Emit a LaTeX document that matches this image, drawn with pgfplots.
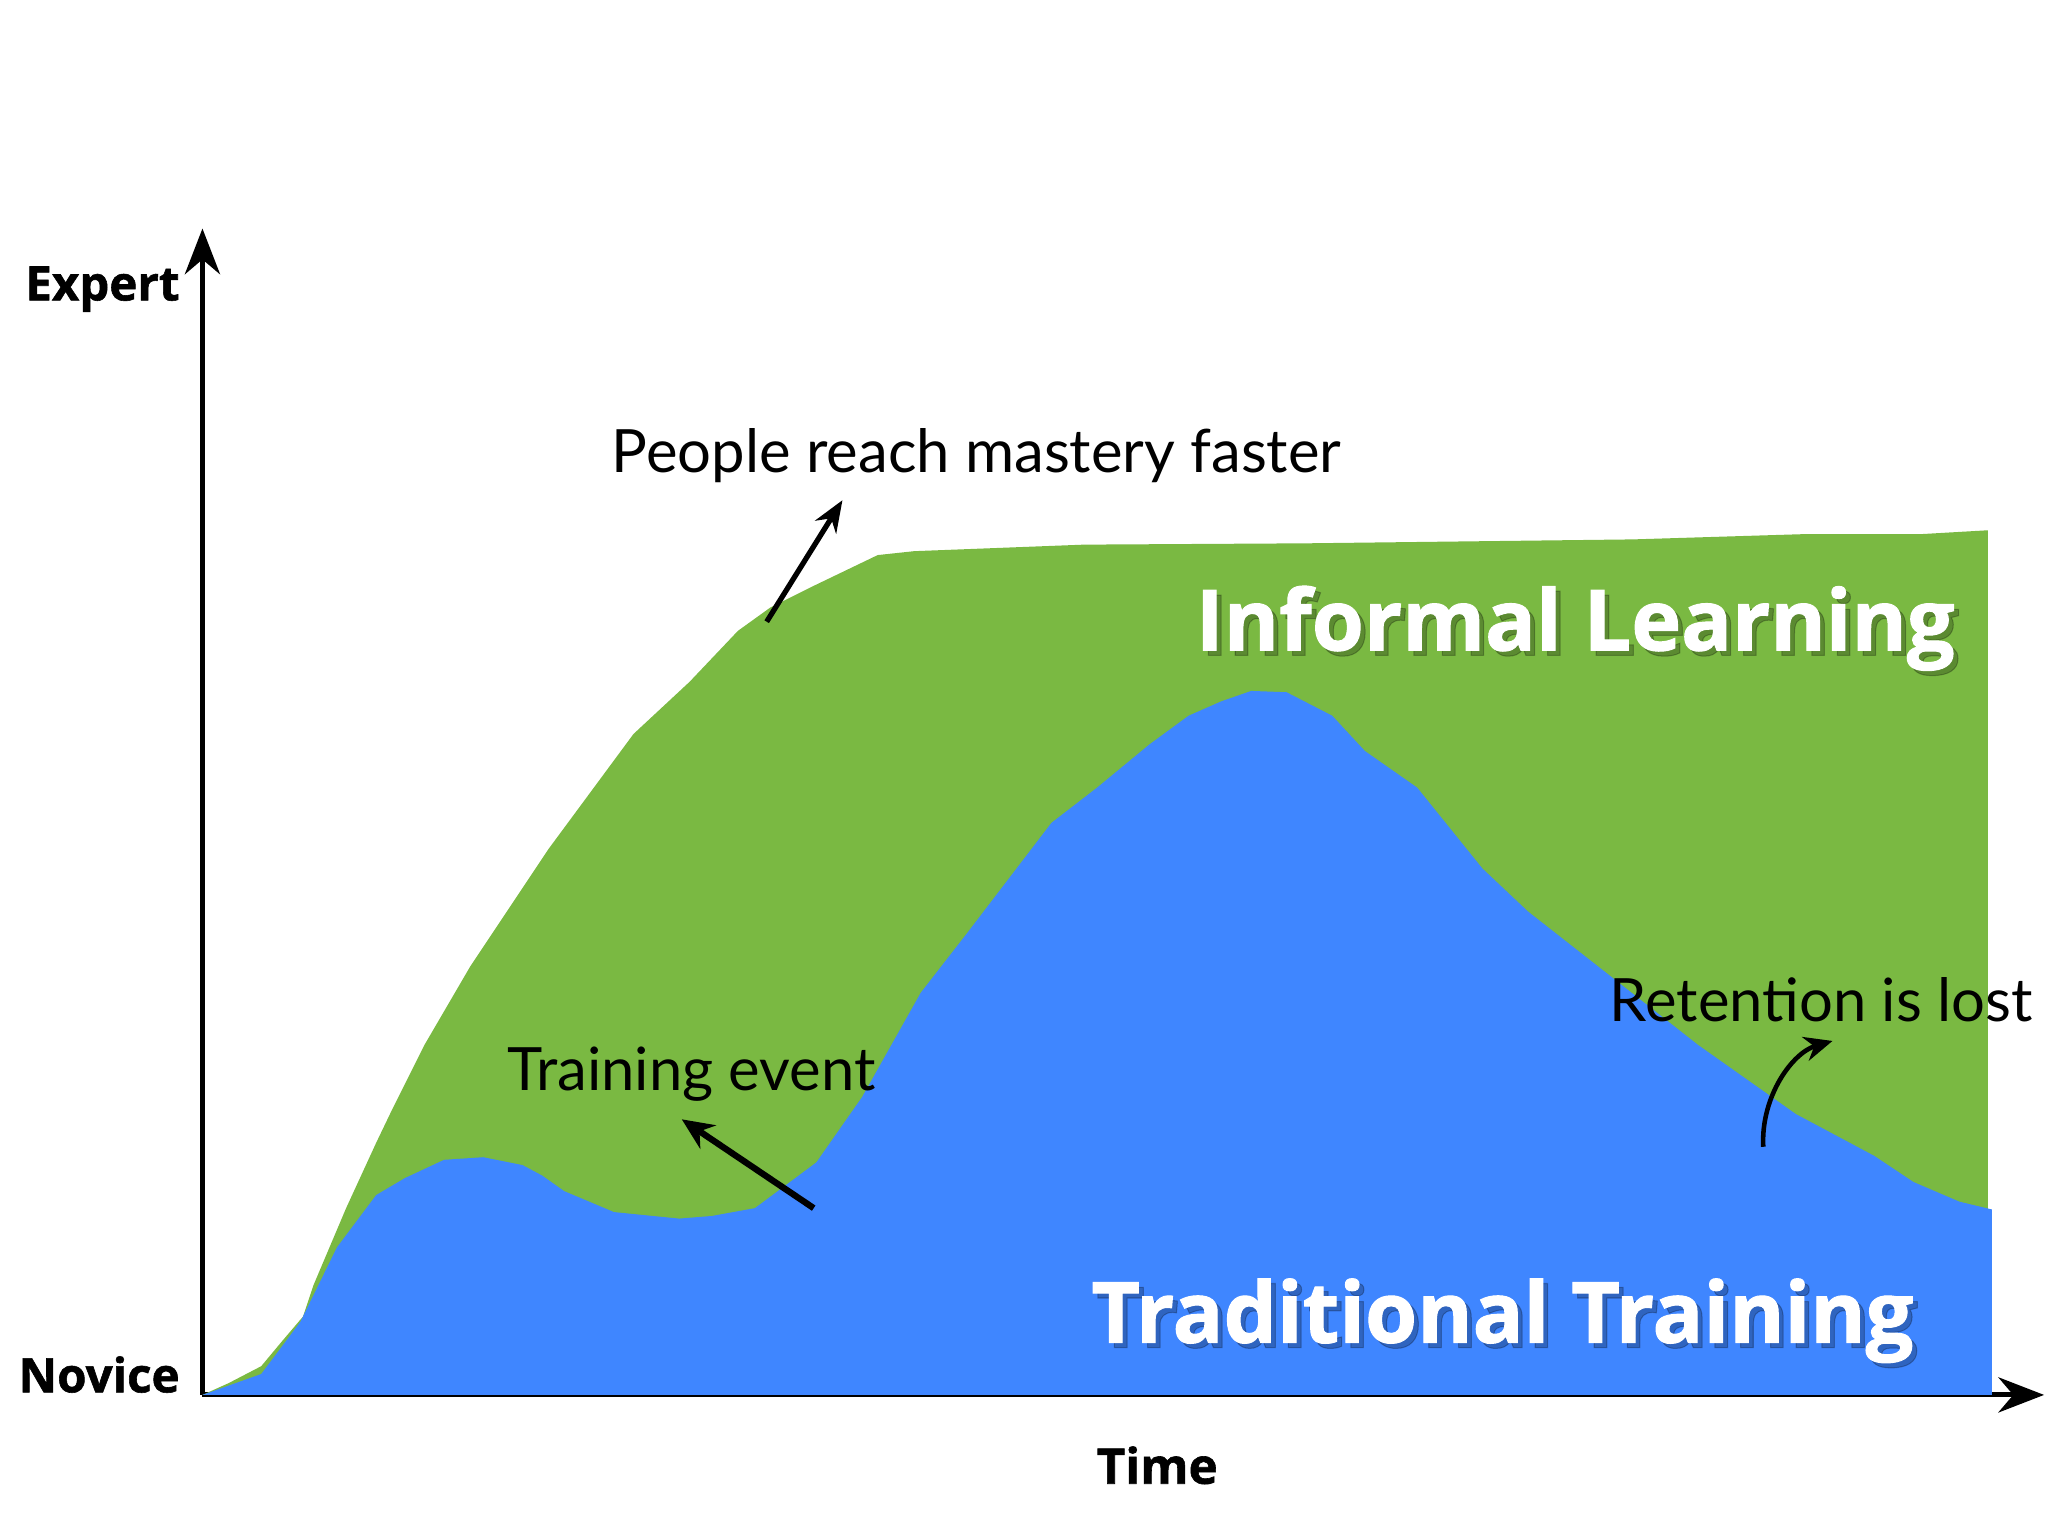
\documentclass[border=0pt]{standalone}
\usepackage{pgfplots}
\pgfplotsset{compat=1.18}
\usepackage{fontspec}
\setmainfont{Open Sans}
\newfontfamily\heavy{Open Sans}[FakeBold=1.2]
\newfontfamily\hand{Lato}
\usetikzlibrary{arrows.meta}
\definecolor{igreen}{RGB}{122,185,66}
\definecolor{tblue}{RGB}{63,134,255}
\begin{document}
\begin{tikzpicture}
\useasboundingbox (0,0) rectangle (20.48cm,15.36cm);
\begin{axis}[
  at={(2.0245cm,1.4106cm)}, anchor=origin,
  x=0.013061cm, y=0.013061cm,
  xmin=155, xmax=1565, ymin=0, ymax=893,
  axis lines=left,
  axis line style={line width=1.4pt, -{Stealth[length=13pt,width=10pt]}},
  xtick=\empty, ytick=\empty,
  clip=false,
]
\addplot[fill=igreen, draw=none] coordinates {
(155,0) (175,9) (200,22) (215,40) (232,60) (240,84) (265,143) (288,193) (300,218)
(325,268) (360,328) (420,418) (485,506) (528,546) (565,585) (590,603) (620,618)
(672,643) (700,646) (830,651) (1000,652) (1250,655) (1380,659) (1470,659) (1522,662)
} \closedcycle;
\addplot[fill=tblue, draw=none] coordinates {
(155,0) (200,16) (230,56) (258,113) (288,153) (310,166) (340,180) (370,182) (400,176)
(415,168) (432,156) (470,140) (520,135) (545,137) (578,143) (625,178) (660,228)
(705,308) (740,353) (805,438) (840,465) (880,498) (910,520) (935,531) (958,539)
(985,538) (1020,520) (1045,493) (1085,465) (1135,403) (1170,370) (1230,323)
(1300,268) (1375,215) (1435,183) (1465,163) (1500,148) (1525,142)
} \closedcycle;
% axis labels
\node[anchor=base east, inner sep=0pt, font=\heavy\fontsize{13.5}{16}\selectfont\bfseries] at (axis cs:138,838) {Expert};
\node[anchor=base east, inner sep=0pt, font=\heavy\fontsize{13.5}{16}\selectfont\bfseries] at (axis cs:138,2) {Novice};
\node[anchor=base, inner sep=0pt, font=\heavy\fontsize{14}{16}\selectfont\bfseries] at (axis cs:886,-68) {Time};
% area labels with shadow
\node[anchor=base west, inner sep=0pt, font=\heavy\fontsize{24}{28}\selectfont\bfseries, text=black, opacity=0.25, xshift=1.4pt, yshift=-1.4pt] at (axis cs:915,570) {Informal Learning};
\node[anchor=base west, inner sep=0pt, font=\heavy\fontsize{24}{28}\selectfont\bfseries, text=white] at (axis cs:915,570) {Informal Learning};
\node[anchor=base west, inner sep=0pt, font=\heavy\fontsize{24}{28}\selectfont\bfseries, text=black, opacity=0.25, xshift=1.4pt, yshift=-1.4pt] at (axis cs:835,40) {Traditional Training};
\node[anchor=base west, inner sep=0pt, font=\heavy\fontsize{24}{28}\selectfont\bfseries, text=white] at (axis cs:835,40) {Traditional Training};
% handwritten annotations
\node[anchor=base west, inner sep=0pt, font=\hand\fontsize{17}{20}\selectfont] at (axis cs:468,706) {People reach mastery faster};
\node[anchor=base west, inner sep=0pt, font=\hand\fontsize{17}{20}\selectfont] at (axis cs:388,233) {Training event};
\node[anchor=base west, inner sep=0pt, font=\hand\fontsize{17}{20}\selectfont] at (axis cs:1232,286) {Retention is lost};
\draw[line width=1.5pt, -{Stealth[length=9pt,width=7pt]}] (axis cs:587,592) -- (axis cs:645,685);
\draw[line width=1.8pt, -{Stealth[length=9pt,width=8pt]}] (axis cs:623,143) -- (axis cs:522,211);
\draw[line width=1.3pt, -{Stealth[length=8pt,width=7pt]}] (axis cs:1350,190) .. controls (axis cs:1348,228) and (axis cs:1372,262) .. (axis cs:1403,271);
\end{axis}
\end{tikzpicture}
\end{document}
